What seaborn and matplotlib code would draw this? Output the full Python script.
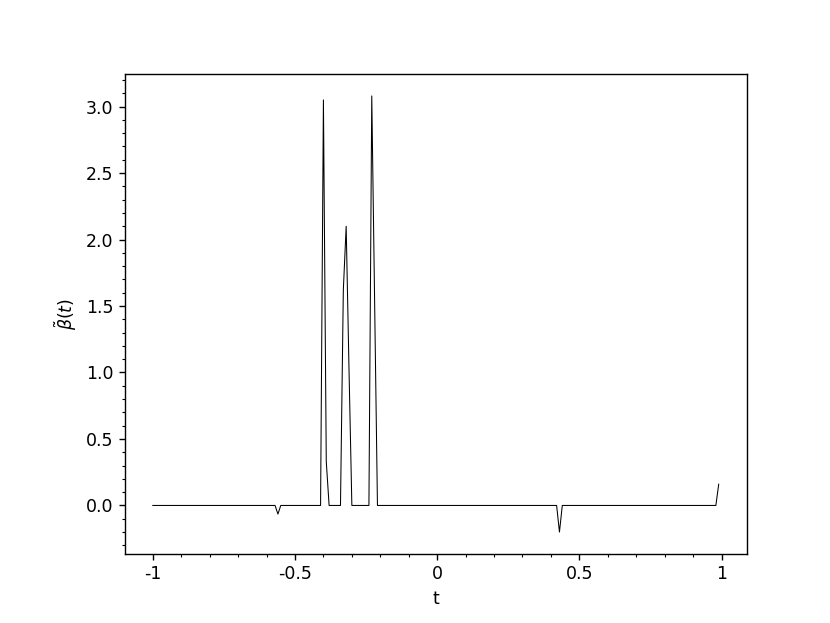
import numpy as np
import pandas as pd
import seaborn as sns
import matplotlib
matplotlib.use('Agg')
import matplotlib.pyplot as plt
from matplotlib.ticker import MultipleLocator, FuncFormatter

# grid of t values (step 0.01, last point 0.99)
t_start = -1.0
t_stop = 0.99
n_points = 200

# the curve is 0 everywhere except at these t values
spike_t = [-0.56, -0.40, -0.39, -0.33, -0.32, -0.31, -0.23, -0.22, 0.43, 0.99]
spike_vals = [-0.065, 3.05, 0.33, 1.62, 2.10, 1.02, 3.08, 1.52, -0.20, 0.16]

t = np.round(np.linspace(t_start, t_stop, n_points), 2)
beta = np.zeros(n_points)
for st, sv in zip(spike_t, spike_vals):
    beta[np.isclose(t, st)] = sv

df = pd.DataFrame({'t': t, 'beta': beta})

plt.rcParams['axes.unicode_minus'] = False
plt.rcParams['font.family'] = ['DejaVu Sans']

fig = plt.figure(figsize = (8.3, 6.23), dpi = 100)
ax = fig.add_subplot(1, 1, 1)
fig.subplots_adjust(left = 0.15, right = 0.9, top = 0.881, bottom = 0.111)

sns.lineplot(data = df, x = 't', y = 'beta', ax = ax,
             color = 'black', linewidth = 0.75, estimator = None)

ax.set_xlabel('t', fontsize = 12.5, labelpad = 5)
ax.set_ylabel(r'$\tilde{\beta}(t)$', fontsize = 12.5, labelpad = 5)

ax.xaxis.set_major_locator(MultipleLocator(0.5))
ax.xaxis.set_minor_locator(MultipleLocator(0.1))
ax.yaxis.set_major_locator(MultipleLocator(0.5))
ax.yaxis.set_minor_locator(MultipleLocator(0.1))
ax.xaxis.set_major_formatter(FuncFormatter(lambda v, p: '%g' % round(v, 2)))
ax.yaxis.set_major_formatter(FuncFormatter(lambda v, p: '%.1f' % v))

ax.tick_params(which = 'major', length = 4.3, width = 1.0, labelsize = 12.5)
ax.tick_params(which = 'minor', length = 2.5, width = 0.8)
for s in ax.spines.values():
    s.set_linewidth(1.0)

fig.savefig('out.png', dpi = 100)
